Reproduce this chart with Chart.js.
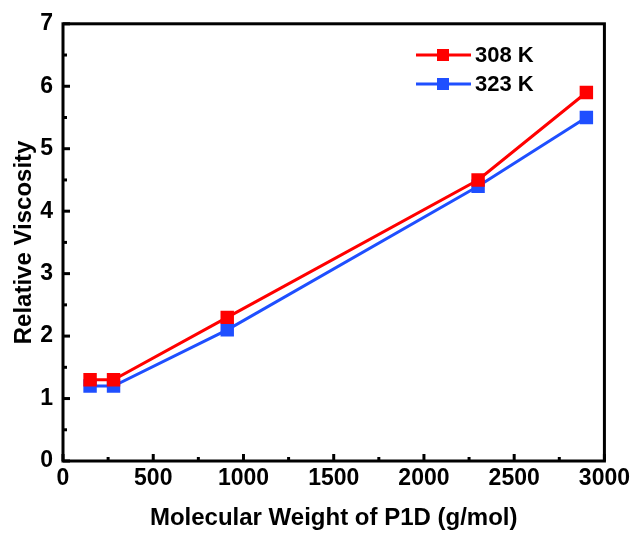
<!DOCTYPE html>
<html>
<head>
<meta charset="utf-8">
<script src="https://cdn.jsdelivr.net/npm/chart.js@4.4.1/dist/chart.umd.min.js"></script>
<style>
  html, body { margin: 0; padding: 0; background: #fff; }
  #wrap { width: 634px; height: 533px; }
</style>
</head>
<body>
<div id="wrap"><canvas id="mycanvas"></canvas></div>
<script>
// data
var molWeight = [150, 280, 910, 2300, 2900];
var visc308 = [1.3, 1.3, 2.3, 4.5, 5.9];
var visc323 = [1.2, 1.2, 2.1, 4.4, 5.5];
var seriesNames = ["308 K", "323 K"];
var xTicks = [0, 500, 1000, 1500, 2000, 2500, 3000];
var yTicks = [0, 1, 2, 3, 4, 5, 6, 7];

var fontFam = "'Liberation Sans', Arial, sans-serif";

function pts(xs, ys){
    var out = [];
    for (var i in xs){
        out.push({x: xs[i], y: ys[i]});
    }
    return out;
}

// frame, inward ticks and legend
var framePlugin = {
    id: "frame",
    afterDraw: function(chart){
        var ctx = chart.ctx;
        var a = chart.chartArea;
        var xs = chart.scales.x, ys = chart.scales.y;
        ctx.save();
        ctx.strokeStyle = "#000";
        ctx.lineWidth = 3;
        ctx.lineCap = "butt";
        // major + minor ticks on bottom
        for (var v = 0; v <= 3000; v += 250){
            var px = xs.getPixelForValue(v);
            var len = (v % 500 === 0) ? 7 : 4;
            ctx.beginPath();
            ctx.moveTo(px, a.bottom);
            ctx.lineTo(px, a.bottom - len);
            ctx.stroke();
        }
        for (var w = 0; w <= 7; w += 0.5){
            var py = ys.getPixelForValue(w);
            var l2 = (w % 1 === 0) ? 7 : 4;
            ctx.beginPath();
            ctx.moveTo(a.left, py);
            ctx.lineTo(a.left + l2, py);
            ctx.stroke();
        }
        ctx.strokeRect(a.left, a.top, a.right - a.left, a.bottom - a.top);

        // legend
        var ds = chart.data.datasets;
        for (var i = 0; i < ds.length; i++){
            var ly = 55 + i * 29;
            ctx.strokeStyle = ds[i].borderColor;
            ctx.lineWidth = 3;
            ctx.beginPath();
            ctx.moveTo(416, ly);
            ctx.lineTo(471, ly);
            ctx.stroke();
            ctx.fillStyle = ds[i].backgroundColor;
            ctx.fillRect(437, ly - 6, 12, 12);
            ctx.fillStyle = "#000";
            ctx.font = "bold 22px " + fontFam;
            ctx.textBaseline = "middle";
            ctx.textAlign = "left";
            ctx.fillText(ds[i].label, 475, ly + 1);
        }
        ctx.restore();
    }
};

var chartdata = {
    datasets: [
        {
            label: seriesNames[0],
            data: pts(molWeight, visc308),
            borderColor: "#ff0000",
            backgroundColor: "#ff0000",
            borderWidth: 3,
            pointStyle: "rect",
            pointRadius: 9.5,
            pointBorderWidth: 0
        },
        {
            label: seriesNames[1],
            data: pts(molWeight, visc323),
            borderColor: "#1f4fff",
            backgroundColor: "#1f4fff",
            borderWidth: 3,
            pointStyle: "rect",
            pointRadius: 9.5,
            pointBorderWidth: 0
        }
    ]
};

function plain(v){ return String(v); }

var ctx = document.getElementById("mycanvas");
var chart = new Chart(ctx, {
    type: "line",
    data: chartdata,
    plugins: [framePlugin],
    options: {
        responsive: true,
        maintainAspectRatio: false,
        animation: false,
        layout: { padding: { top: 23, right: 29, left: 0, bottom: 0 } },
        plugins: {
            legend: { display: false },
            tooltip: { enabled: false }
        },
        scales: {
            x: {
                type: "linear",
                min: 0, max: 3000,
                afterBuildTicks: function(s){ s.ticks = xTicks.map(function(v){ return {value: v}; }); },
                afterFit: function(s){ s.height = 72; },
                grid: { display: false, drawTicks: false },
                border: { display: false },
                ticks: { color: "#000", padding: 4, maxRotation: 0, callback: plain, font: { family: fontFam, size: 23, weight: "bold" } },
                title: { display: true, text: "Molecular Weight of P1D (g/mol)", color: "#000", padding: { top: 0, bottom: 0 }, font: { family: fontFam, size: 24, weight: "bold" } }
            },
            y: {
                type: "linear",
                min: 0, max: 7,
                afterBuildTicks: function(s){ s.ticks = yTicks.map(function(v){ return {value: v}; }); },
                afterFit: function(s){ s.width = 63; },
                grid: { display: false, drawTicks: false },
                border: { display: false },
                ticks: { color: "#000", padding: 10, callback: plain, font: { family: fontFam, size: 23, weight: "bold" } },
                title: { display: true, text: "Relative Viscosity", color: "#000", padding: { top: 10, bottom: 0 }, font: { family: fontFam, size: 24, weight: "bold" } }
            }
        }
    }
});
</script>
</body>
</html>
